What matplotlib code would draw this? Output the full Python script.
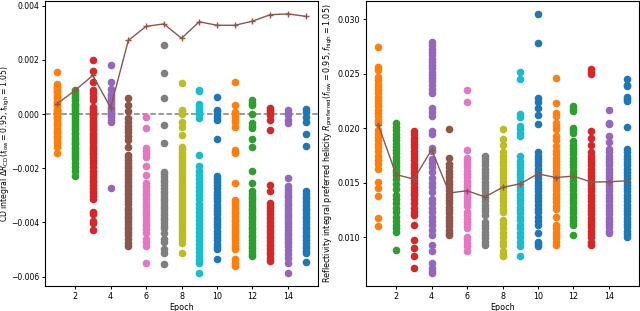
import numpy as np
import matplotlib.pyplot as plt

# epochs and colours used for each epoch's scatter column
epochs = list(range(1, 16))
epoch_colors = ['#ff7f0e', '#2ca02c', '#d62728', '#9467bd', '#8c564b',
                '#e377c2', '#7f7f7f', '#bcbd22', '#17becf', '#1f77b4',
                '#ff7f0e', '#2ca02c', '#d62728', '#9467bd', '#1f77b4']

# CD integral per run (units of 1e-3)
cd_e1 = [1.54, 1.10, 1.05, 1.0, 0.95, 0.9, 0.85, 0.8, 0.72, 0.65, 0.6, 0.5, 0.45, 0.4, 0.35, 0.3,
         0.2, 0.15, 0.1, 0.05, 0.0, -0.05, -0.1, -0.15, -0.2, -0.3, -0.35, -0.4, -0.5, -0.6,
         -0.65, -0.7, -0.8, -0.85, -0.95, -1.05, -1.2, -1.45]
cd_e2 = [0.88, 0.82, 0.75, 0.68, 0.6, 0.52, 0.39, 0.33, 0.27, 0.2, 0.12, 0.05, 0.0, -0.08,
         -0.15, -0.22, -0.3, -0.38, -0.45, -0.52, -0.6, -0.68, -0.75, -0.83, -0.9, -0.98,
         -1.05, -1.12, -1.2, -1.28, -1.35, -1.42, -1.5, -1.58, -1.65, -1.8, -1.95, -2.1, -2.3]
cd_e3 = [1.98, 1.59, 1.19, 0.88, 0.78, 0.65, 0.52, 0.27, 0.18, 0.1, 0.02, -0.05, -0.12, -0.2,
         -0.28, -0.36, -0.44, -0.52, -0.6, -0.68, -0.76, -0.84, -0.92, -1.0, -1.08, -1.16,
         -1.24, -1.32, -1.4, -1.48, -1.57, -1.7, -1.82, -1.95, -2.1, -2.22, -2.32, -2.42,
         -2.52, -2.62, -2.72, -2.82, -2.92, -3.02, -3.12, -3.62, -3.67, -3.93, -4.01, -4.29]
cd_e4 = [1.82, 1.19, 0.94, 0.76, 0.68, 0.6, 0.52, 0.44, 0.36, 0.28, 0.2, 0.12, 0.04, -0.04,
         -0.12, -0.2, -0.28, -2.73]
cd_e5 = [0.6, 0.32, 0.11, -0.16, -0.3, -0.42, -0.55, -0.65, -0.8, -0.95, -1.2, -1.5, -1.6,
         -1.7, -1.8, -1.9, -2.0, -2.1, -2.2, -2.3, -2.4, -2.5, -2.6, -2.7, -2.8, -2.9, -3.0,
         -3.1, -3.2, -3.3, -3.45, -3.55, -3.65, -3.75, -3.85, -3.95, -4.05, -4.15, -4.25,
         -4.35, -4.45, -4.6, -4.75, -4.87]
cd_e6 = [-0.1, -0.5, -1.26, -1.36, -1.46, -1.57, -1.9, -2.24, -2.54, -2.64, -2.74, -2.84,
         -2.94, -3.04, -3.14, -3.24, -3.34, -3.44, -3.54, -3.64, -3.74, -3.84, -3.94, -4.04,
         -4.14, -4.24, -4.38, -4.62, -4.72, -4.87, -5.48]
cd_e7 = [2.56, 1.5, 0.61, -0.4, -1.08, -2.12, -2.22, -2.32, -2.42, -2.52, -2.62, -2.72,
         -2.82, -2.92, -3.02, -3.12, -3.22, -3.32, -3.42, -3.52, -3.62, -3.72, -3.82, -3.92,
         -4.02, -4.12, -4.22, -4.38, -4.62, -4.72, -4.98, -5.11, -5.54]
cd_e8 = [1.15, 0.17, 0.1, 0.02, -0.28, -0.49, -0.77, -1.2, -1.3, -1.4, -1.5, -1.6, -1.7,
         -1.8, -1.9, -2.0, -2.1, -2.2, -2.3, -2.4, -2.5, -2.6, -2.7, -2.8, -2.9, -3.0, -3.1,
         -3.2, -3.3, -3.4, -3.5, -3.6, -3.7, -3.8, -3.9, -4.0, -4.1, -4.2, -4.3, -4.4, -4.5,
         -4.62, -4.75, -5.11]
cd_e9 = [0.88, 0.85, 0.39, 0.3, 0.2, 0.1, 0.0, -0.16, -1.5, -1.93, -2.1, -2.25, -2.4, -2.55,
         -2.7, -2.85, -3.0, -3.15, -3.3, -3.45, -3.6, -3.75, -3.9, -4.05, -4.2, -4.35, -4.5,
         -4.65, -4.8, -4.95, -5.1, -5.25, -5.38, -5.48, -5.87]
cd_e10 = [0.64, 0.17, 0.1, 0.0, -0.1, -0.22, -0.93, -2.28, -2.38, -2.5, -2.62, -2.74, -2.86,
          -2.98, -3.1, -3.22, -3.34, -3.46, -3.58, -3.7, -3.82, -3.94, -4.06, -4.18, -4.3,
          -4.42, -4.54, -4.66, -4.78, -4.9, -4.99, -5.33]
cd_e11 = [1.2, 0.35, 0.09, 0.0, -0.1, -0.2, -0.3, -0.46, -1.32, -1.38, -1.44, -2.54, -3.16,
          -3.26, -3.36, -3.46, -3.56, -3.66, -3.76, -3.86, -3.96, -4.06, -4.16, -4.26,
          -4.36, -4.46, -4.56, -4.66, -4.76, -4.86, -4.99, -5.36, -5.48, -5.6]
cd_e12 = [0.51, 0.42, 0.33, 0.0, -0.34, -0.44, -0.53, -0.92, -1.22, -2.1, -2.54, -2.85,
          -2.95, -3.05, -3.15, -3.25, -3.35, -3.45, -3.55, -3.65, -3.75, -3.85, -3.95,
          -4.05, -4.15, -4.25, -4.35, -4.45, -4.55, -4.65, -4.75, -4.85, -4.95, -5.05,
          -5.15, -5.24]
cd_e13 = [0.21, 0.14, 0.07, -0.04, -0.22, -0.59, -2.6, -2.85, -3.28, -3.38, -3.48, -3.58,
          -3.68, -3.78, -3.88, -3.98, -4.08, -4.18, -4.28, -4.38, -4.48, -4.58, -4.68,
          -4.78, -4.88, -4.98, -5.08, -5.18, -5.3, -5.42]
cd_e14 = [0.17, 0.05, -0.05, -0.2, -0.34, -2.37, -2.67, -2.77, -2.87, -2.97, -3.07, -3.17,
          -3.27, -3.37, -3.47, -3.57, -3.67, -3.77, -3.87, -3.97, -4.07, -4.17, -4.27,
          -4.37, -4.47, -4.57, -4.67, -4.77, -4.87, -5.0, -5.15, -5.3, -5.48, -5.87]
cd_e15 = [0.2, 0.08, -0.1, -0.28, -0.75, -1.16, -2.85, -2.95, -3.05, -3.15, -3.25, -3.35,
          -3.45, -3.55, -3.65, -3.75, -3.85, -3.95, -4.05, -4.15, -4.25, -4.35, -4.45,
          -4.55, -4.65, -4.75, -4.85, -4.95, -5.05, -5.11, -5.44]
cd_runs = [cd_e1, cd_e2, cd_e3, cd_e4, cd_e5, cd_e6, cd_e7, cd_e8, cd_e9, cd_e10,
           cd_e11, cd_e12, cd_e13, cd_e14, cd_e15]
cd_best = [0.39, 0.88, 1.43, 0.24, 2.72, 3.24, 3.33, 2.80, 3.41, 3.28, 3.28, 3.43, 3.67, 3.70, 3.61]

# reflectivity integral per run (units of 1e-3)
rf_e1 = [27.48, 25.67, 25.36, 24.7, 24.4, 24.1, 23.8, 23.5, 23.2, 22.9, 22.6, 22.3, 22.0,
         21.7, 21.4, 21.1, 20.8, 20.5, 19.8, 19.5, 19.2, 18.9, 18.6, 18.3, 17.9, 17.5, 17.1,
         16.7, 16.3, 15.1, 14.5, 13.8, 11.8, 11.0]
rf_e2 = [20.45, 20.1, 19.8, 19.5, 19.2, 18.9, 18.6, 18.3, 18.0, 17.7, 17.4, 17.1, 16.8,
         16.5, 16.2, 15.97, 15.67, 15.3, 14.9, 14.45, 13.85, 13.5, 13.1, 12.7, 12.3, 11.9,
         11.5, 11.1, 10.8, 10.5, 8.8]
rf_e3 = [19.76, 19.45, 19.15, 18.85, 18.55, 18.25, 17.95, 17.65, 17.35, 17.05, 16.75, 16.45,
         16.15, 15.85, 15.55, 15.25, 14.95, 14.65, 14.35, 14.05, 13.85, 13.5, 13.1, 12.7,
         12.3, 12.0, 11.1, 9.76, 9.0, 8.24, 7.2]
rf_e4 = [27.9, 27.6, 27.3, 27.0, 26.7, 26.4, 26.1, 25.8, 25.5, 25.2, 24.9, 24.6, 24.3, 24.0,
         23.6, 23.2, 21.9, 21.5, 21.1, 19.76, 19.45, 18.2, 17.9, 17.2, 16.8, 16.4, 16.0,
         15.4, 15.0, 14.6, 14.15, 13.5, 13.1, 12.7, 12.3, 11.9, 11.5, 11.1, 10.7, 10.2, 9.3,
         8.7, 7.6, 7.2, 6.9, 6.7]
rf_e5 = [19.9, 17.3, 16.7, 16.4, 16.1, 15.8, 15.5, 15.2, 14.9, 14.6, 14.3, 14.0, 13.7, 13.4,
         13.1, 12.8, 12.5, 12.2, 11.9, 11.6, 11.3, 11.0, 10.7, 10.4, 10.2]
rf_e6 = [23.5, 22.4, 18.0, 17.3, 17.0, 16.7, 16.4, 16.1, 15.8, 15.5, 15.2, 14.9, 14.6, 14.3,
         14.0, 13.7, 13.4, 13.1, 12.9, 12.3, 12.0, 11.7, 11.4, 11.1, 10.8, 10.06, 9.8, 9.45,
         9.15, 8.7]
rf_e7 = [17.5, 17.2, 16.9, 16.6, 16.3, 16.0, 15.7, 15.4, 15.1, 14.8, 14.5, 14.2, 13.9, 13.6,
         13.3, 13.0, 12.7, 12.4, 12.0, 11.4, 11.1, 10.8, 10.5, 10.2, 9.9, 9.6, 9.3]
rf_e8 = [19.9, 19.06, 18.5, 17.8, 17.5, 17.2, 16.9, 16.6, 16.3, 16.0, 15.7, 15.4, 15.1, 14.8,
         14.5, 14.2, 13.9, 13.6, 13.3, 13.0, 12.6, 12.3, 11.6, 11.2, 10.8, 10.4, 10.0, 9.6,
         9.3, 8.76, 8.5, 8.24]
rf_e9 = [25.2, 24.5, 21.3, 21.0, 20.2, 19.9, 19.6, 19.3, 17.5, 17.0, 16.7, 16.4, 16.1, 15.8,
         15.5, 15.2, 14.9, 14.6, 14.3, 14.0, 13.7, 13.4, 13.1, 12.8, 12.5, 12.2, 11.9, 11.6,
         11.1, 10.8, 10.4, 10.0, 9.6, 9.15, 8.24]
rf_e10 = [30.5, 27.8, 22.8, 22.4, 21.9, 21.2, 20.4, 17.8, 17.5, 17.2, 16.9, 16.6, 16.3, 16.0,
          15.7, 15.4, 15.1, 14.8, 14.5, 14.2, 13.9, 13.6, 13.3, 13.0, 12.6, 12.3, 11.9,
          11.5, 11.1, 10.36, 9.6, 9.35, 9.15]
rf_e11 = [24.6, 22.3, 21.4, 21.1, 20.5, 20.2, 19.9, 19.3, 18.9, 18.4, 17.9, 17.6, 17.3, 17.0,
          16.7, 16.4, 16.1, 15.8, 15.5, 15.2, 14.9, 14.6, 14.3, 14.0, 13.7, 13.5, 13.2,
          12.9, 12.6, 11.9, 11.1, 10.8, 10.5, 10.2, 9.9, 9.6, 9.3]
rf_e12 = [22.0, 21.8, 21.6, 20.06, 19.8, 19.6, 18.8, 18.5, 18.2, 17.9, 17.6, 17.3, 17.0,
          16.7, 16.4, 16.1, 15.8, 15.5, 15.2, 14.9, 14.6, 14.3, 14.0, 13.7, 13.4, 13.1,
          12.8, 12.5, 12.2, 11.9, 11.6, 11.3, 11.1, 10.2]
rf_e13 = [25.4, 25.2, 25.0, 19.76, 19.15, 18.5, 17.8, 17.5, 17.2, 16.9, 16.6, 16.3, 16.0,
          15.7, 15.4, 15.1, 14.8, 14.5, 14.2, 13.9, 13.6, 13.3, 13.0, 12.7, 12.4, 12.1,
          11.8, 11.5, 11.2, 10.9, 10.6, 10.3, 10.0, 9.6, 9.3]
rf_e14 = [21.7, 20.5, 20.4, 19.3, 18.7, 18.1, 17.8, 17.5, 17.2, 16.9, 16.6, 16.3, 16.0, 15.7,
          15.4, 15.1, 14.8, 14.5, 14.2, 13.9, 13.6, 13.3, 13.0, 12.7, 12.4, 12.1, 11.8,
          11.5, 11.2, 10.9, 10.6, 10.4]
rf_e15 = [24.5, 24.0, 23.9, 22.9, 22.7, 22.5, 20.15, 18.1, 17.8, 17.5, 17.2, 16.9, 16.6,
          16.3, 16.0, 15.7, 15.4, 15.1, 14.8, 14.5, 14.2, 13.9, 13.6, 13.3, 13.0, 12.7,
          12.4, 12.1, 11.8, 11.5, 11.2, 10.9, 10.6, 10.3, 10.06]
rf_runs = [rf_e1, rf_e2, rf_e3, rf_e4, rf_e5, rf_e6, rf_e7, rf_e8, rf_e9, rf_e10,
           rf_e11, rf_e12, rf_e13, rf_e14, rf_e15]
rf_best = [20.27, 15.75, 15.33, 18.03, 14.06, 14.27, 13.70, 14.57, 14.91, 15.82,
           15.48, 15.61, 15.06, 15.09, 15.18]

line_col = '#8c564b'
plt.rcParams['font.size'] = 5.8

fig = plt.figure(figsize=(6.4, 3.11), dpi=100)
ax1 = fig.add_axes([0.0703, 0.080, 0.4267, 0.917])
ax2 = fig.add_axes([0.5719, 0.080, 0.4266, 0.917])

for ax, runs, best in [(ax1, cd_runs, cd_best), (ax2, rf_runs, rf_best)]:
    for ep, vals, col in zip(epochs, runs, epoch_colors):
        v = np.array(vals) * 1e-3
        ax.scatter(np.full(len(v), ep), v, s=20, color=col, zorder=2)
    ax.plot(epochs, np.array(best) * 1e-3, color=line_col, marker='+',
            markersize=4, linewidth=1.0, zorder=3)
    ax.set_xlabel('Epoch', labelpad=1.5)
    ax.set_xticks([2, 4, 6, 8, 10, 12, 14])
    ax.tick_params(length=2.5, pad=2, width=0.7)
    for sp in ax.spines.values():
        sp.set_linewidth(0.8)

ax1.axhline(0, color='gray', linestyle='--', linewidth=1.1, zorder=1)
ax1.set_yticks([0.004, 0.002, 0.0, -0.002, -0.004, -0.006])
ax1.tick_params(axis='y', labelsize=5.5, pad=1.8)
ax1.set_ylabel(r'CD integral $\Delta R_{\rm CD}(f_{\rm low}=0.95, f_{\rm high}=1.05)$', fontsize=5.6)
ax1.yaxis.set_label_coords(-0.121, 0.5)
ax2.set_yticks([0.010, 0.015, 0.020, 0.025, 0.030])
ax2.set_ylabel(r'Reflectivity integral preferred helicity $R_{\rm preferred}(f_{\rm low}=0.95, f_{\rm high}=1.05)$')
ax2.yaxis.set_label_coords(-0.114, 0.5)

fig.savefig('out.png', dpi=100)
